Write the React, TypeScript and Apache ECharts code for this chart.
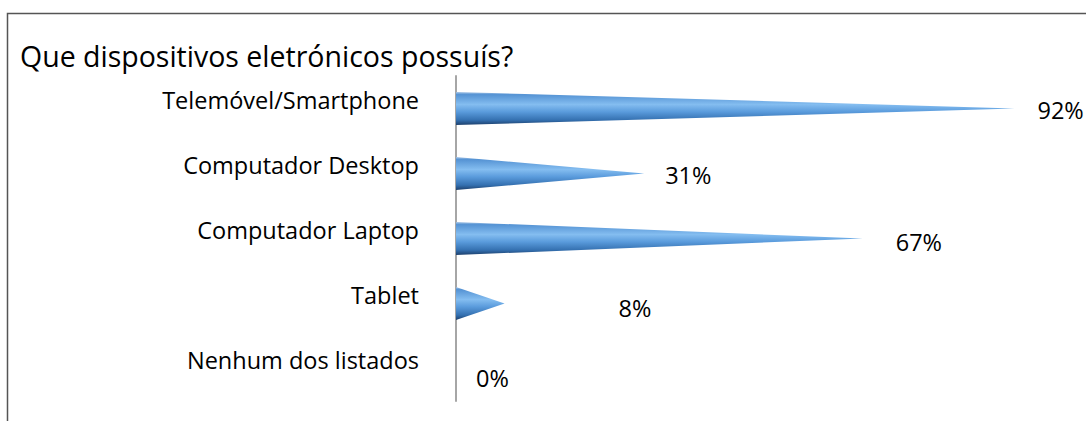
import React, { useEffect, useRef } from "react";
import * as echarts from "echarts";

const title = "Que dispositivos eletrónicos possuís?";
const categories = [
  "Telemóvel/Smartphone",
  "Computador Desktop",
  "Computador Laptop",
  "Tablet",
  "Nenhum dos listados",
];
const values = [92, 31, 67, 8, 0];
// label placement tweaks (dx from tip, dy from bar centre), layout only
const labelShift = [
  [23, 1],
  [21, 1],
  [33, 3],
  [114, 4],
  [20, 9],
];

const FONT = "Open Sans";

export default function App() {
  const ref = useRef<HTMLDivElement>(null);
  useEffect(() => {
    document.body.style.margin = "0";
    const chart = echarts.init(ref.current!, null, { renderer: "svg" });
    const grad = new echarts.graphic.LinearGradient(0, 0, 0, 1, [
      { offset: 0, color: "#a9c6e6" },
      { offset: 0.08, color: "#5593d4" },
      { offset: 0.38, color: "#84bdf0" },
      { offset: 0.6, color: "#5a9bdc" },
      { offset: 0.85, color: "#3470b0" },
      { offset: 1, color: "#1d3f6b" },
    ]);
    chart.setOption({
      animation: false,
      title: {
        text: title,
        left: 15,
        top: 36,
        textStyle: { fontFamily: FONT, fontSize: 28.5, fontWeight: "normal", color: "#000" },
      },
      grid: { left: 456, right: 23, top: 76, bottom: 20, containLabel: false },
      xAxis: { type: "value", min: 0, max: 100, show: false },
      yAxis: {
        type: "category",
        data: categories,
        inverse: true,
        axisLine: { show: true, lineStyle: { color: "#a6a6a6", width: 2 } },
        axisTick: { show: false },
        splitLine: { show: false },
        axisLabel: {
          margin: 37,
          fontFamily: FONT,
          fontSize: 23.5,
          color: "#000",
          verticalAlign: "bottom",
          lineHeight: 18,
        },
      },
      graphic: [
        {
          type: "rect",
          shape: { x: 7.5, y: 13.5, width: 1100, height: 420 },
          style: { fill: "none", stroke: "#555", lineWidth: 1.5 },
          silent: true,
        },
      ],
      series: [
        {
          type: "custom",
          data: values.map((v, i) => [v, i]),
          encode: { x: 0, y: 1 },
          renderItem: (params: any, api: any) => {
            const v = api.value(0);
            const idx = api.value(1);
            const base = api.coord([0, idx]);
            const tip = api.coord([v, idx]);
            const h = api.size([0, 1])[1] * 0.51;
            const children: any[] = [];
            if (v > 0) {
              children.push({
                type: "polygon",
                shape: {
                  points: [
                    [base[0], base[1] - h / 2],
                    [tip[0], tip[1]],
                    [base[0], base[1] + h / 2],
                  ],
                },
                style: { fill: grad },
              });
            }
            const sh = labelShift[params.dataIndex] || [22, 2];
            children.push({
              type: "text",
              x: tip[0] + sh[0],
              y: tip[1] + sh[1],
              style: {
                text: v + "%",
                fontFamily: FONT,
                fontSize: 23.5,
                fill: "#000",
                align: "left",
                verticalAlign: "middle",
              },
            });
            return { type: "group", children };
          },
        },
      ],
    });
    return () => chart.dispose();
  }, []);
  return <div ref={ref} style={{ width: 1086, height: 421 }} />;
}
